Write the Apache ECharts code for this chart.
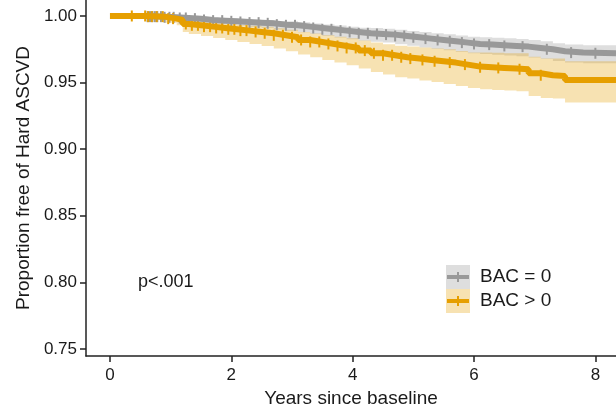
<!DOCTYPE html>
<html>
<head>
<meta charset="utf-8">
<script src="https://cdn.jsdelivr.net/npm/echarts@6/dist/echarts.min.js"></script>
<style>
  html, body { margin: 0; padding: 0; background: #fff; }
  #main { width: 616px; height: 415px; }
</style>
</head>
<body>
<div id="main"></div>
<script>
// axis ranges / ticks
const xMin = -0.395
const xMax = 8.34
const yMin = 0.7447
const yMax = 1.012
const xTicks = [0, 2, 4, 6, 8]
const yTicks = [0.75, 0.80, 0.85, 0.90, 0.95, 1.00]

// BAC = 0 (step function, value holds until next time)
const grayTime  = [0, 0.3, 0.6, 0.9, 1.1, 1.3, 1.5, 1.7, 1.9, 2.1, 2.3, 2.5, 2.7, 2.9, 3.1, 3.3, 3.5, 3.7, 3.9, 4.1, 4.3, 4.5, 4.7, 4.9, 5.1, 5.3, 5.5, 5.7, 5.9, 6.1, 6.3, 6.5, 6.7, 6.9, 7.1, 7.3, 7.5, 7.8, 8.34]
const graySurv  = [1.000, 1.000, 0.9995, 0.999, 0.9985, 0.998, 0.997, 0.9965, 0.996, 0.9955, 0.995, 0.9945, 0.9935, 0.993, 0.992, 0.991, 0.990, 0.989, 0.988, 0.987, 0.9865, 0.986, 0.985, 0.984, 0.983, 0.982, 0.981, 0.980, 0.979, 0.9785, 0.978, 0.9775, 0.977, 0.976, 0.975, 0.9735, 0.9725, 0.972, 0.972]
const grayUpper = [1.000, 1.000, 0.9998, 0.9995, 0.9993, 0.999, 0.9982, 0.998, 0.9977, 0.9975, 0.9972, 0.997, 0.9962, 0.996, 0.9952, 0.9944, 0.9936, 0.9928, 0.992, 0.9912, 0.9909, 0.9905, 0.9896, 0.9888, 0.988, 0.9871, 0.9862, 0.9853, 0.9844, 0.984, 0.9836, 0.9832, 0.9828, 0.9819, 0.981, 0.9795, 0.9785, 0.978, 0.978]
const grayLower = [1.000, 1.000, 0.999, 0.998, 0.9973, 0.9965, 0.9952, 0.9945, 0.9937, 0.9929, 0.992, 0.9912, 0.9899, 0.989, 0.9877, 0.9864, 0.985, 0.9838, 0.9826, 0.9814, 0.9807, 0.980, 0.9788, 0.9776, 0.9764, 0.9753, 0.9742, 0.9731, 0.972, 0.9715, 0.9709, 0.9704, 0.9698, 0.9688, 0.9677, 0.9662, 0.9651, 0.9645, 0.9645]
const grayCensor = [0.62, 0.66, 0.7, 0.74, 0.78, 0.84, 0.9, 0.98, 1.05, 1.15, 1.25, 1.4, 1.55, 1.7, 1.85, 2.0, 2.15, 2.3, 2.45, 2.6, 2.75, 2.9, 3.05, 3.2, 3.35, 3.5, 3.65, 3.8, 3.95, 4.1, 4.25, 4.4, 4.55, 4.7, 4.85, 5.0, 5.2, 5.4, 5.6, 5.8, 6.0, 6.25, 6.5, 6.8, 7.2, 7.6, 8.0]

// BAC > 0
const orangeTime  = [0, 0.3, 0.6, 0.9, 1.1, 1.2, 1.3, 1.5, 1.7, 1.9, 2.1, 2.3, 2.5, 2.7, 2.9, 3.1, 3.3, 3.5, 3.7, 3.9, 4.1, 4.3, 4.5, 4.7, 4.9, 5.1, 5.3, 5.5, 5.7, 5.9, 6.1, 6.3, 6.5, 6.7, 6.9, 7.1, 7.3, 7.5, 8.34]
const orangeSurv  = [1.000, 1.000, 0.9995, 0.998, 0.997, 0.994, 0.993, 0.992, 0.991, 0.990, 0.989, 0.988, 0.987, 0.9855, 0.984, 0.982, 0.9805, 0.979, 0.9775, 0.976, 0.974, 0.972, 0.9705, 0.969, 0.968, 0.967, 0.966, 0.965, 0.9635, 0.962, 0.9615, 0.961, 0.9605, 0.960, 0.957, 0.9555, 0.955, 0.952, 0.952]
const orangeUpper = [1.000, 1.000, 1.000, 0.9995, 0.999, 0.997, 0.9962, 0.9955, 0.9948, 0.994, 0.9933, 0.9926, 0.992, 0.9908, 0.9896, 0.988, 0.9868, 0.9856, 0.9845, 0.9833, 0.9816, 0.980, 0.9788, 0.9776, 0.977, 0.9763, 0.9756, 0.975, 0.9738, 0.9726, 0.9725, 0.9723, 0.9721, 0.972, 0.9693, 0.9681, 0.968, 0.966, 0.966]
const orangeLower = [1.000, 1.000, 0.9985, 0.995, 0.993, 0.988, 0.9865, 0.985, 0.9835, 0.982, 0.9805, 0.979, 0.9775, 0.9755, 0.9735, 0.971, 0.969, 0.967, 0.965, 0.963, 0.9605, 0.958, 0.956, 0.954, 0.953, 0.9515, 0.9505, 0.949, 0.9475, 0.946, 0.945, 0.9445, 0.944, 0.9435, 0.940, 0.9385, 0.938, 0.935, 0.935]
const orangeCensor = [0.36, 0.58, 0.63, 0.69, 0.77, 0.87, 0.96, 1.04, 1.25, 1.35, 1.45, 1.55, 1.65, 1.75, 1.85, 1.95, 2.05, 2.15, 2.25, 2.4, 2.55, 2.7, 2.85, 3.0, 3.15, 3.3, 3.45, 3.6, 3.75, 3.9, 4.05, 4.2, 4.35, 4.5, 4.65, 4.8, 4.95, 5.15, 5.35, 5.6, 5.85, 6.1, 6.4, 6.75, 7.1]

const names = ['BAC = 0', 'BAC > 0']
const lineColors = ['#999999', '#E69F00']
const bandColors = ['rgba(153,153,153,0.32)', 'rgba(230,159,0,0.3)']
const textColor = '#1a1a1a'
const font = 'Liberation Sans, Arial, sans-serif'

function survAt (times, surv, t) {
  let v = surv[0]
  for (let i = 0; i < times.length; i++) {
    if (times[i] <= t) v = surv[i]
    else break
  }
  return v
}

function bandRender (times, lower, upper, fill) {
  return function (params, api) {
    if (params.dataIndex !== 0) return
    let pts = []
    for (let i = 0; i < times.length; i++) {
      pts.push(api.coord([times[i], upper[i]]))
      if (i < times.length - 1) pts.push(api.coord([times[i + 1], upper[i]]))
    }
    for (let i = times.length - 1; i >= 0; i--) {
      if (i < times.length - 1) pts.push(api.coord([times[i + 1], lower[i]]))
      pts.push(api.coord([times[i], lower[i]]))
    }
    return { type: 'polygon', shape: { points: pts }, style: { fill: fill } }
  }
}

function bandSeries (idx, times, lower, upper) {
  return {
    name: names[idx],
    type: 'custom',
    silent: true,
    itemStyle: { color: bandColors[idx] },
    data: [[0, 1]],
    encode: { x: 0, y: 1 },
    renderItem: bandRender(times, lower, upper, bandColors[idx])
  }
}

function lineSeries (idx, times, surv) {
  return {
    name: names[idx] + ' curve',
    type: 'line',
    step: 'end',
    symbol: 'none',
    silent: true,
    lineStyle: { color: lineColors[idx], width: 6 },
    data: times.map((t, i) => [t, surv[i]])
  }
}

function censorSeries (idx, censor, times, surv) {
  return {
    name: names[idx] + ' censor',
    type: 'scatter',
    symbol: 'rect',
    symbolSize: [2, 11],
    silent: true,
    itemStyle: { color: lineColors[idx], opacity: 1 },
    data: censor.map(t => [t, survAt(times, surv, t)])
  }
}

const myChart = echarts.init(document.getElementById('main'))

let option = {
  animation: false,
  backgroundColor: '#fff',
  grid: { left: 86, right: 0, top: 0, bottom: 59 },
  legend: {
    data: names,
    orient: 'vertical',
    left: 446,
    top: 265,
    padding: 0,
    itemGap: 0,
    itemWidth: 24,
    itemHeight: 24,
    icon: 'rect',
    selectedMode: false,
    textStyle: { fontSize: 19, color: textColor, fontFamily: font, lineHeight: 24, padding: [0, 0, 0, 5] }
  },
  xAxis: {
    type: 'value',
    min: xMin,
    max: xMax,
    name: 'Years since baseline',
    nameLocation: 'middle',
    nameGap: 33,
    nameTextStyle: { fontSize: 19, color: textColor, fontFamily: font },
    axisLine: { show: true, onZero: false, lineStyle: { color: '#222', width: 1.5 } },
    axisTick: { show: true, length: 6, customValues: xTicks, lineStyle: { color: '#222', width: 1.5 } },
    axisLabel: { customValues: xTicks, margin: 11, fontSize: 17, color: textColor, fontFamily: font, formatter: v => String(v) },
    splitLine: { show: false }
  },
  yAxis: {
    type: 'value',
    min: yMin,
    max: yMax,
    name: 'Proportion free of Hard ASCVD',
    nameLocation: 'middle',
    nameGap: 53,
    nameTextStyle: { fontSize: 19, color: textColor, fontFamily: font },
    axisLine: { show: true, onZero: false, lineStyle: { color: '#222', width: 1.5 } },
    axisTick: { show: true, length: 6, customValues: yTicks, lineStyle: { color: '#222', width: 1.5 } },
    axisLabel: { customValues: yTicks, margin: 9, fontSize: 17, color: textColor, fontFamily: font, formatter: v => v.toFixed(2) },
    splitLine: { show: false }
  },
  graphic: [
    { type: 'text', left: 138, top: 273, style: { text: 'p<.001', fontSize: 18, fill: textColor, fontFamily: font } },
    // line glyphs drawn on the legend keys
    { type: 'rect', z: 100, shape: { x: 447, y: 275, width: 22, height: 4 }, style: { fill: lineColors[0] } },
    { type: 'rect', z: 100, shape: { x: 457, y: 272, width: 2, height: 10 }, style: { fill: lineColors[0] } },
    { type: 'rect', z: 100, shape: { x: 447, y: 299, width: 22, height: 4 }, style: { fill: lineColors[1] } },
    { type: 'rect', z: 100, shape: { x: 457, y: 296, width: 2, height: 10 }, style: { fill: lineColors[1] } }
  ],
  series: [
    bandSeries(0, grayTime, grayLower, grayUpper),
    bandSeries(1, orangeTime, orangeLower, orangeUpper),
    lineSeries(0, grayTime, graySurv),
    censorSeries(0, grayCensor, grayTime, graySurv),
    lineSeries(1, orangeTime, orangeSurv),
    censorSeries(1, orangeCensor, orangeTime, orangeSurv)
  ]
}
myChart.setOption(option)
</script>
</body>
</html>
